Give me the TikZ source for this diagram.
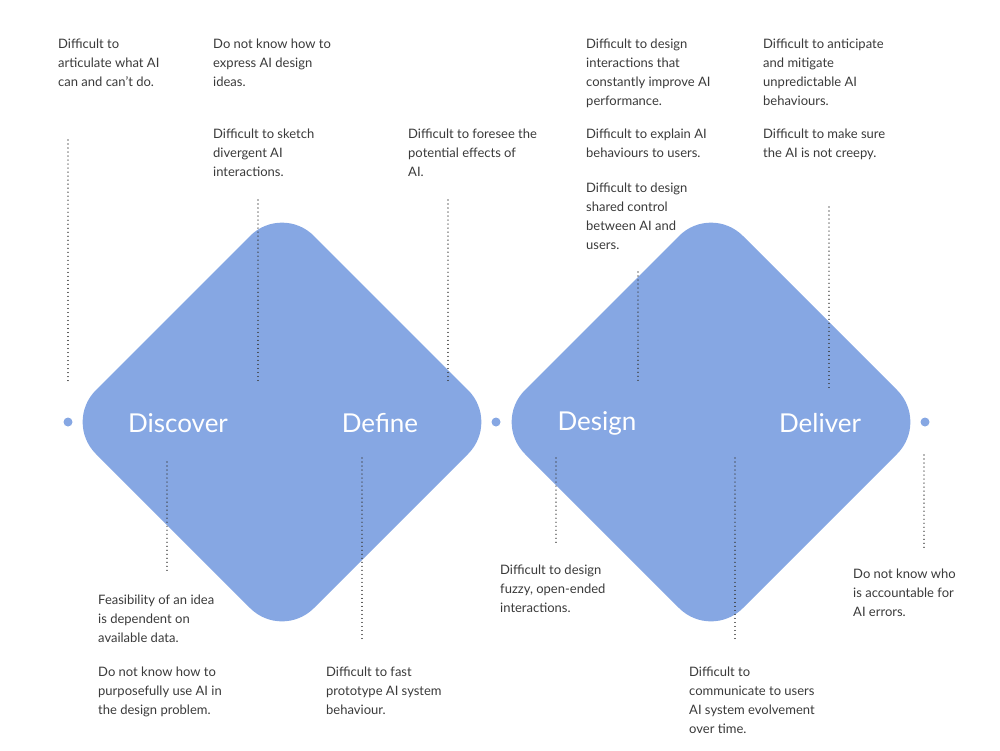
\documentclass[tikz,border=0pt]{standalone}
\usepackage{fontspec}
\setmainfont{Lato}
\definecolor{dia}{HTML}{86A7E3}
\definecolor{txt}{HTML}{3A3A3A}
\begin{document}
\begin{tikzpicture}[x=1pt,y=-1pt,
  note/.style={anchor=north west,align=left,inner sep=0pt,text=txt,font=\fontsize{13}{19}\selectfont},
  lbl/.style={text=white,font=\fontsize{26}{30}\selectfont},
  dline/.style={draw=txt,line width=1.1pt,dash pattern=on 0.01pt off 4pt,line cap=round},
  dotc/.style={circle,fill=dia,inner sep=0pt,minimum size=9pt}]
\useasboundingbox (0,0) rectangle (1000,750);
\fill[dia,rounded corners=45pt] (64,422) -- (282,204) -- (500,422) -- (282,640) -- cycle;
\fill[dia,rounded corners=45pt] (493,422) -- (711,204) -- (929,422) -- (711,640) -- cycle;
\node[dotc] (d1) at (68,422) {};
\node[dotc] (d2) at (496,422) {};
\node[dotc] (d3) at (925,422) {};
\node[lbl] (l1) at (178,423) {Discover};
\node[lbl] (l2) at (380,423) {Define};
\node[lbl] (l3) at (597,423) {Design};
\node[lbl] (l4) at (820,423) {Deliver};
\foreach \x/\a/\b in {68/140/382, 258/200/382, 448/200/382, 167/462/572, 362/458/640, 556/458/543, 638/272/382, 735/458/640, 829/207/388, 924/455/548}
  \draw[dline] (\x,\a) -- (\x,\b);
\node[note] (t1) at (58,39) {Difficult to\\articulate what AI\\can and can’t do.};
\node[note] (t2) at (213,39) {Do not know how to\\express AI design\\ideas.};
\node[note] (t3) at (213,129) {Difficult to sketch\\divergent AI\\interactions.};
\node[note] (t4) at (408,129) {Difficult to foresee the\\potential effects of\\AI.};
\node[note] (t5) at (586,39) {Difficult to design\\interactions that\\constantly improve AI\\performance.};
\node[note] (t6) at (586,129) {Difficult to explain AI\\behaviours to users.};
\node[note] (t7) at (586,183) {Difficult to design\\shared control\\between AI and\\users.};
\node[note] (t8) at (763,39) {Difficult to anticipate\\and mitigate\\unpredictable AI\\behaviours.};
\node[note] (t9) at (763,129) {Difficult to make sure\\the AI is not creepy.};
\node[note] (t10) at (98,595) {Feasibility of an idea\\is dependent on\\available data.};
\node[note] (t11) at (98,667) {Do not know how to\\purposefully use AI in\\the design problem.};
\node[note] (t12) at (326,667) {Difficult to fast\\prototype AI system\\behaviour.};
\node[note] (t13) at (500,565) {Difficult to design\\fuzzy, open-ended\\interactions.};
\node[note] (t14) at (853,569) {Do not know who\\is accountable for\\AI errors.};
\node[note] (t15) at (689,667) {Difficult to\\communicate to users\\AI system evolvement\\over time.};
\end{tikzpicture}
\end{document}
